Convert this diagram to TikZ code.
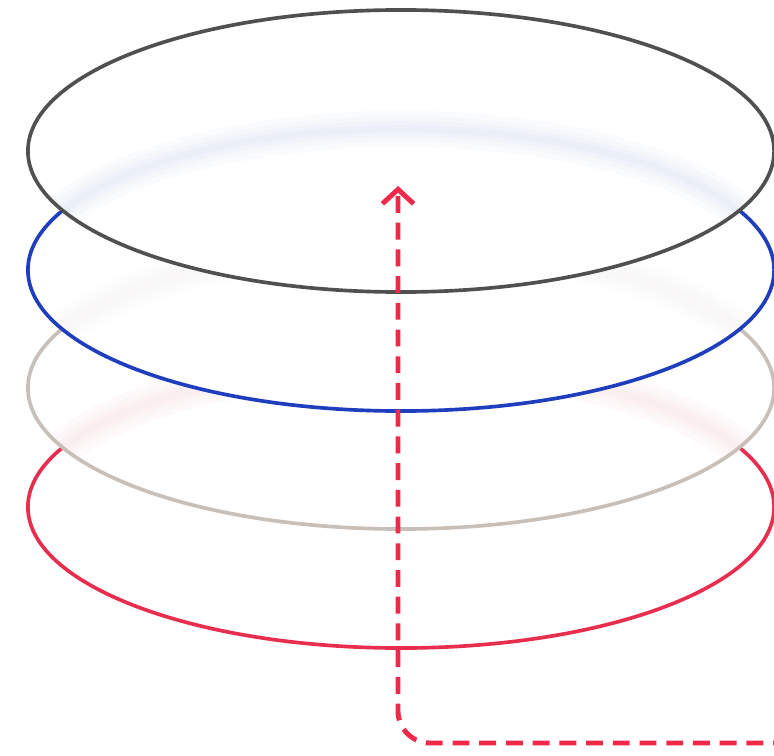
\documentclass[tikz,border=0pt]{standalone}
\usetikzlibrary{arrows.meta, positioning, shapes.geometric}
\definecolor{layergray}{HTML}{505050}
\definecolor{layerblue}{HTML}{1E3EBE}
\definecolor{layerbeige}{HTML}{C8BFB8}
\definecolor{layerred}{HTML}{E82E4E}
\definecolor{flowred}{HTML}{F0284A}
\tikzset{
    layer/.style={
        ellipse,
        minimum width=18.65cm,
        minimum height=7.05cm,
        inner sep=0pt,
        line width=2.6pt,
        fill=white
    },
    glow/.style={
        draw=#1,
        draw opacity=0.02
    },
    flow/.style={
        line width=3.5pt,
        draw=flowred,
        dash pattern=on 12pt off 7pt,
        rounded corners=0.8cm,
        -{Straight Barb[length=3.6mm, width=7.8mm]}
    }
}
% faint trace of the layer underneath, seen through the one on top
\newcommand{\layerglow}[2]{
    \foreach \w in {26pt, 18pt, 11pt, 5pt}
        \draw[glow=#2, line width=\w] (#1.center) ellipse [x radius=9.3cm, y radius=3.525cm];
}

\begin{document}
\begin{tikzpicture}[x=0.025cm, y=-0.025cm]
\useasboundingbox (0,0) rectangle (774,755);

\node[layer, draw=layerred] (red) at (401,507) {};
\node[layer, draw=layerbeige, path picture={\layerglow{red}{layerred}}] (beige) at (401,388) {};
\node[layer, draw=layerblue, path picture={\layerglow{beige}{layerbeige}}] (blue) at (401,270) {};
\node[layer, draw=layergray, path picture={\layerglow{blue}{layerblue}}] (gray) at (401,151) {};

\coordinate (flowin) at (790,743);
\coordinate (flowtip) at (398,186);
\draw[flow] (flowin) -| (flowtip);

\end{tikzpicture}
\end{document}
